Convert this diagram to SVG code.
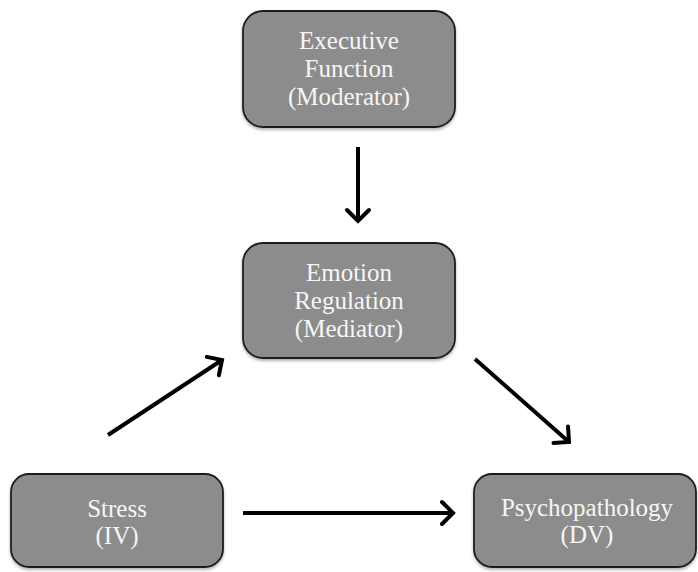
<svg xmlns="http://www.w3.org/2000/svg" width="698" height="572" viewBox="0 0 698 572">
  <defs>
    <style>
      .box { fill: #8c8c8c; stroke: #1e1e1e; stroke-width: 1.8; }
      .lbl { font-size: 25px; fill: #f6f6f6; text-anchor: middle; }
      .conn { stroke: #000; stroke-width: 4; fill: none; marker-end: url(#arrow); }
    </style>
    <marker id="arrow" markerUnits="userSpaceOnUse" markerWidth="30" markerHeight="30" viewBox="-16 -15 20 30" refX="0" refY="0" orient="auto">
      <path d="M-11,-11 L0,0 L-11,11" fill="none" stroke="#000" stroke-width="4" stroke-linejoin="miter" stroke-linecap="round"/>
    </marker>
    <filter id="sh" x="-10%" y="-10%" width="120%" height="130%">
      <feDropShadow dx="0" dy="2" stdDeviation="1.5" flood-color="#000" flood-opacity="0.3"/>
    </filter>
  </defs>
  <rect width="698" height="572" fill="#ffffff"/>

  <g id="executive-function" font-family="'Liberation Serif', 'DejaVu Serif', serif">
    <rect class="box" x="243" y="11" width="212" height="116" rx="20" filter="url(#sh)"/>
    <text class="lbl" x="349" y="49">Executive</text>
    <text class="lbl" x="349" y="77">Function</text>
    <text class="lbl" x="349" y="105">(Moderator)</text>
  </g>

  <g id="emotion-regulation" font-family="'Liberation Serif', 'DejaVu Serif', serif">
    <rect class="box" x="243" y="243" width="212" height="115" rx="20" filter="url(#sh)"/>
    <text class="lbl" x="349" y="281">Emotion</text>
    <text class="lbl" x="349" y="309">Regulation</text>
    <text class="lbl" x="349" y="337">(Mediator)</text>
  </g>

  <g id="stress" font-family="'Liberation Serif', 'DejaVu Serif', serif">
    <rect class="box" x="11" y="474" width="212" height="93" rx="18" filter="url(#sh)"/>
    <text class="lbl" x="117" y="517">Stress</text>
    <text class="lbl" x="117" y="544">(IV)</text>
  </g>

  <g id="psychopathology" font-family="'Liberation Serif', 'DejaVu Serif', serif">
    <rect class="box" x="474" y="474" width="222" height="93" rx="18" filter="url(#sh)"/>
    <text class="lbl" x="587" y="516">Psychopathology</text>
    <text class="lbl" x="587" y="543">(DV)</text>
  </g>

  <g id="connectors">
    <line class="conn" x1="358" y1="147" x2="358" y2="221"/>
    <line class="conn" x1="108" y1="435" x2="222" y2="360"/>
    <line class="conn" x1="475" y1="359" x2="569" y2="442"/>
    <line class="conn" x1="243" y1="513" x2="453" y2="513"/>
  </g>
</svg>
